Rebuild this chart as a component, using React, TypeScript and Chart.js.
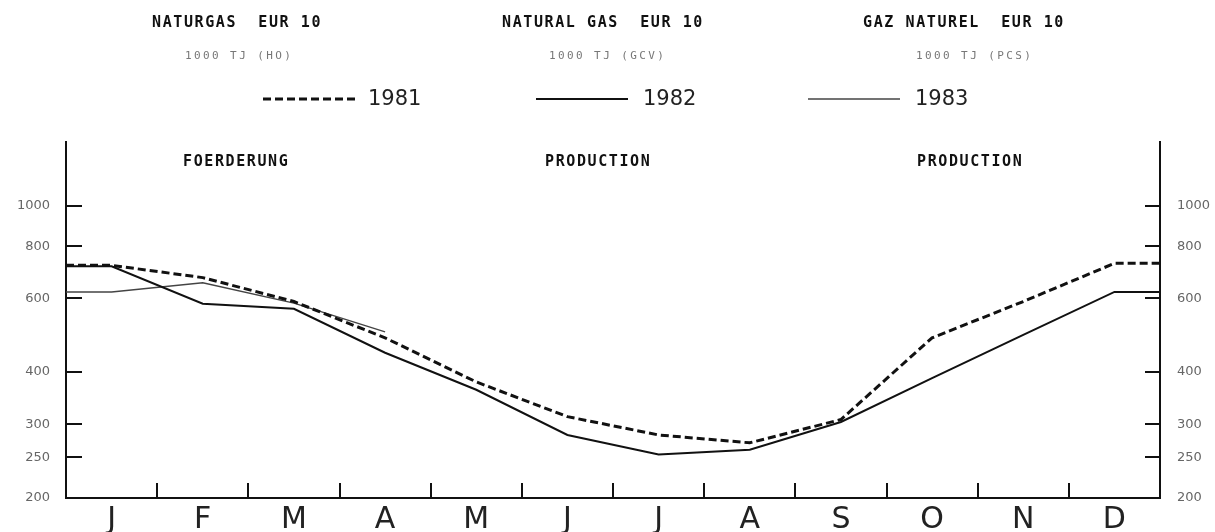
import React, { useEffect, useRef } from "react";
import { Chart, registerables } from "chart.js";

Chart.register(...registerables);

// ---- data ----
const months = ["J", "F", "M", "A", "M", "J", "J", "A", "S", "O", "N", "D"];
const years = ["1981", "1982", "1983"];
const s1981 = [720, 673, 590, 483, 379, 313, 283, 271, 308, 483, 590, 728];
const s1982 = [716, 583, 567, 445, 363, 283, 254, 261, 304, 387, 491, 622];
const s1983 = [622, 654, 585, 499];
const yTickValues = [200, 250, 300, 400, 600, 800, 1000];
const yMin = 200;
const yMax = 1420;

const titles = ["NATURGAS  EUR 10", "NATURAL GAS  EUR 10", "GAZ NATUREL  EUR 10"];
const units = ["1000 TJ (HO)", "1000 TJ (GCV)", "1000 TJ (PCS)"];
const subHeads = ["FOERDERUNG", "PRODUCTION", "PRODUCTION"];

// points at month centres, with the first/last value carried flat to the axes
function toPoints(values: number[], fullYear: boolean) {
  const pts = values.map((v, i) => ({ x: i + 0.5, y: v }));
  pts.unshift({ x: 0, y: values[0] });
  if (fullYear) pts.push({ x: months.length, y: values[values.length - 1] });
  return pts;
}

const xTickValues: number[] = [];
for (let i = 0; i <= months.length; i++) {
  xTickValues.push(i);
  if (i < months.length) xTickValues.push(i + 0.5);
}

const titleFont: React.CSSProperties = {
  position: "absolute",
  fontFamily: "'DejaVu Sans Mono', monospace",
  fontWeight: "bold",
  fontSize: 15,
  letterSpacing: "1.6px",
  lineHeight: "16px",
  color: "#111",
  whiteSpace: "pre",
};
const unitFont: React.CSSProperties = {
  position: "absolute",
  fontFamily: "'DejaVu Sans Mono', monospace",
  fontSize: 11,
  letterSpacing: "2.4px",
  lineHeight: "14px",
  color: "#777",
  whiteSpace: "pre",
};
const legendFont: React.CSSProperties = {
  position: "absolute",
  fontFamily: "'DejaVu Sans', sans-serif",
  fontSize: 21,
  lineHeight: "24px",
  color: "#222",
  whiteSpace: "pre",
};

const titleLeft = [152, 502, 863];
const unitLeft = [185, 549, 916];
const subLeft = [183, 545, 917];
const legendLineLeft = [263, 536, 808];
const legendTextLeft = [368, 643, 915];

const lineStyles = [
  { color: "#111", width: 3, dash: [8, 4] },
  { color: "#111", width: 2, dash: [] as number[] },
  { color: "#444", width: 1.4, dash: [] as number[] },
];

function yAxis(position: "left" | "right", width: number, tickLength: number) {
  return {
    type: "logarithmic",
    position,
    min: yMin,
    max: yMax,
    afterBuildTicks: (s: any) => {
      s.ticks = yTickValues.map((v) => ({ value: v }));
    },
    afterFit: (s: any) => {
      s.width = width;
      s.paddingTop = 0;
      s.paddingBottom = 0;
    },
    ticks: {
      autoSkip: false,
      padding: 32,
      color: "#666",
      font: { family: "'DejaVu Sans', sans-serif", size: 13 },
      callback: (v: any) => String(v),
    },
    grid: { drawOnChartArea: false, tickLength, lineWidth: 2, color: "#111" },
    border: { display: true, color: "#111", width: 2 },
  };
}

export default function App() {
  const canvasRef = useRef<HTMLCanvasElement | null>(null);

  useEffect(() => {
    if (!canvasRef.current) return;
    const seriesList = [toPoints(s1981, true), toPoints(s1982, true), toPoints(s1983, false)];
    const chart = new Chart(canvasRef.current, {
      type: "line",
      data: {
        datasets: seriesList.map((d, i) => ({
          label: years[i],
          data: d,
          borderColor: lineStyles[i].color,
          borderWidth: lineStyles[i].width,
          borderDash: lineStyles[i].dash,
          pointRadius: 0,
          tension: 0,
          fill: false,
        })),
      },
      options: {
        animation: false,
        responsive: false,
        layout: { padding: { top: 142, left: 0, right: 0, bottom: 0 } },
        plugins: {
          legend: { display: false },
          title: { display: false },
          tooltip: { enabled: false },
        },
        scales: {
          x: {
            type: "linear",
            position: "bottom",
            min: 0,
            max: months.length,
            afterBuildTicks: (s: any) => {
              s.ticks = xTickValues.map((v) => ({ value: v }));
            },
            afterFit: (s: any) => {
              s.height = 34;
            },
            ticks: {
              autoSkip: false,
              maxRotation: 0,
              padding: 19,
              color: "#222",
              font: { family: "'DejaVu Sans', sans-serif", size: 30 },
              callback: (v: any) => (Number.isInteger(v) ? "" : months[Math.floor(v)]),
            },
            grid: {
              drawOnChartArea: false,
              drawTicks: true,
              tickLength: -15,
              lineWidth: 2,
              color: (ctx: any) =>
                ctx.tick && Number.isInteger(ctx.tick.value) ? "#111" : "rgba(0,0,0,0)",
            },
            border: { display: true, color: "#111", width: 2 },
          },
          y: yAxis("left", 66, -16),
          y2: yAxis("right", 55, -15),
        },
      } as any,
    });
    return () => chart.destroy();
  }, []);

  return (
    <div
      style={{
        position: "absolute",
        left: 0,
        top: 0,
        width: 1215,
        height: 532,
        background: "#fff",
        overflow: "hidden",
      }}
    >
      <canvas ref={canvasRef} width={1215} height={532} style={{ position: "absolute", left: 0, top: 0 }} />
      {titles.map((t, i) => (
        <div key={"t" + i} style={{ ...titleFont, left: titleLeft[i], top: 14 }}>
          {t}
        </div>
      ))}
      {units.map((t, i) => (
        <div key={"u" + i} style={{ ...unitFont, left: unitLeft[i], top: 49 }}>
          {t}
        </div>
      ))}
      {subHeads.map((t, i) => (
        <div key={"s" + i} style={{ ...titleFont, left: subLeft[i], top: 153 }}>
          {t}
        </div>
      ))}
      {years.map((y, i) => (
        <React.Fragment key={"l" + i}>
          <svg
            width={92}
            height={8}
            style={{ position: "absolute", left: legendLineLeft[i], top: 95 }}
          >
            <line
              x1={0}
              y1={4}
              x2={92}
              y2={4}
              stroke={lineStyles[i].color}
              strokeWidth={lineStyles[i].width}
              strokeDasharray={lineStyles[i].dash.length ? lineStyles[i].dash.join(",") : undefined}
            />
          </svg>
          <div style={{ ...legendFont, left: legendTextLeft[i], top: 86 }}>{y}</div>
        </React.Fragment>
      ))}
    </div>
  );
}
